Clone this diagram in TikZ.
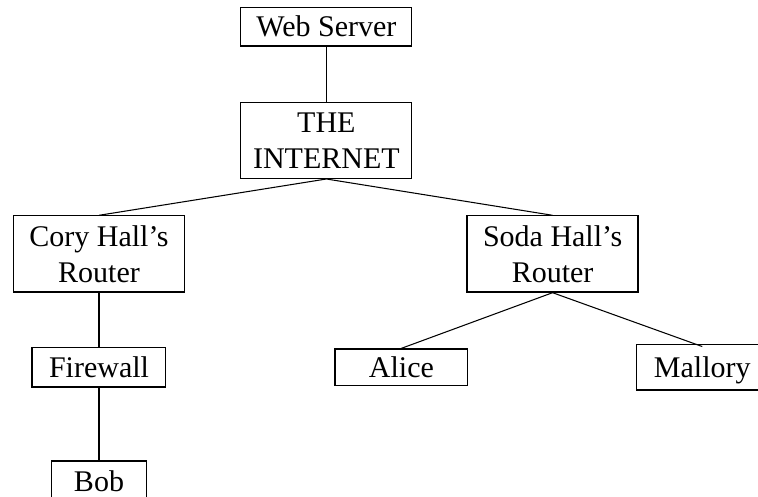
\documentclass[tikz,border=0pt]{standalone}
\usepackage{fontspec}
\setmainfont{Liberation Serif}
\begin{document}
\begin{tikzpicture}[x=1pt,y=1pt,
  box/.style={draw, line width=0.4pt, inner sep=0pt, align=center, font=\fontsize{10}{12}\selectfont},
  wide/.style={box, minimum width=57pt},
  link/.style={draw, line width=0.35pt}]
\useasboundingbox (0,0) rectangle (252.67,165.67);
\fill[white] (0,0) rectangle (252.67,165.67);
\clip (0,0) rectangle (252.67,165.67);
\node[wide, minimum height=13pt] (web) at (108.8,156.8) {Web Server};
\node[wide, minimum height=25.2pt] (inet) at (108.8,118.8) {THE\\INTERNET};
\node[wide, minimum height=25.4pt] (cory) at (33,81) {Cory Hall’s\\Router};
\node[wide, minimum height=25.4pt] (soda) at (184.2,81) {Soda Hall’s\\Router};
\node[box, minimum width=44.6pt, minimum height=13.3pt] (fw) at (33,43.3) {Firewall};
\node[box, minimum width=44.3pt, minimum height=12.3pt] (alice) at (133.8,43.2) {Alice};
\node[box, minimum width=43.6pt, minimum height=15.3pt, text height=9pt, text depth=2.2pt] (mal) at (234.1,43.3) {Mallory};
\node[box, minimum width=31.7pt, minimum height=13.3pt] (bob) at (33,5.35) {Bob};
\path[link] (web.south) -- (inet.north);
\path[link] (inet.south) -- (cory.north);
\path[link] (inet.south) -- (soda.north);
\path[link] (cory.south) -- (fw.north);
\path[link] (fw.south) -- (bob.north);
\path[link] (soda.south) -- (alice.north);
\path[link] (soda.south) -- ([yshift=-1pt]mal.north);
\end{tikzpicture}
\end{document}
